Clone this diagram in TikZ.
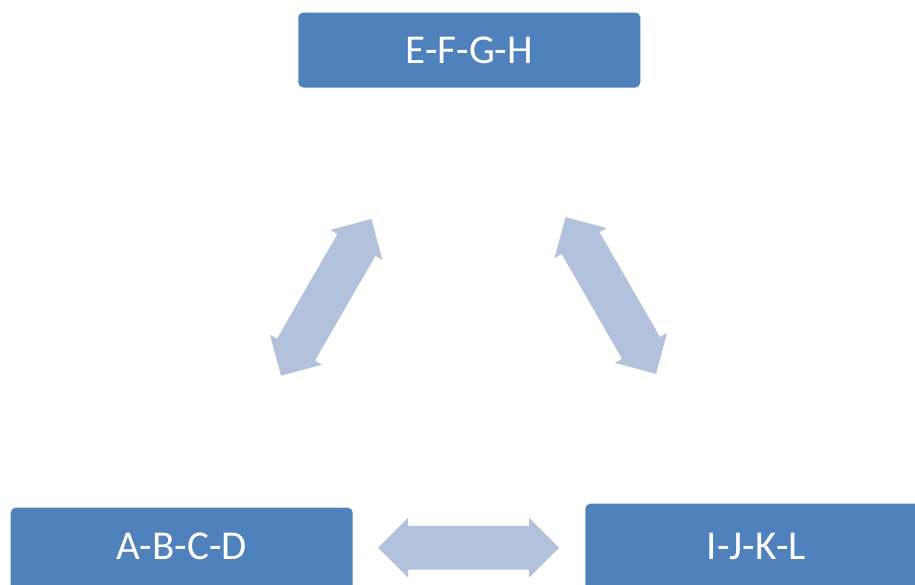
\documentclass[tikz,border=0pt]{standalone}
\usepackage{fontspec}
\setmainfont{Carlito}
\usetikzlibrary{shapes.arrows}

\definecolor{boxblue}{HTML}{4F81BD}
\definecolor{linkblue}{HTML}{B2C2DD}

\begin{document}
\begin{tikzpicture}[x = 1pt, y = -1pt,
	group/.style = {rectangle, rounded corners = 5pt, fill = boxblue, text = white,
		font = \fontsize{41}{48}\selectfont, minimum width = 342pt, inner sep = 0pt},
	link/.style = {double arrow, fill = linkblue, inner sep = 19pt,
		minimum height = 181pt, minimum width = 60pt}]

	% Page frame
	
	\useasboundingbox (0, 0) rectangle (915, 584);
	
	% The three groups (the lower two run off the page)
	
	\node [group, minimum height = 75pt] (efgh) at (469.3, 50) {E-F-G-H};
	\node [group, minimum height = 90pt, text depth = 13pt] (abcd) at (181.7, 552.7) {A-B-C-D};
	\node [group, minimum height = 90pt, text depth = 4pt] (ijkl) at (756.3, 548.7) {I-J-K-L};
	
	% Double arrows between them
	
	\node [link, rotate = 60] (abcd-efgh) at (326.2, 297.3) {};
	\node [link, rotate = -60] (efgh-ijkl) at (610.8, 295.5) {};
	\node [link] (abcd-ijkl) at (468.7, 547.7) {};
		
\end{tikzpicture}
\end{document}
